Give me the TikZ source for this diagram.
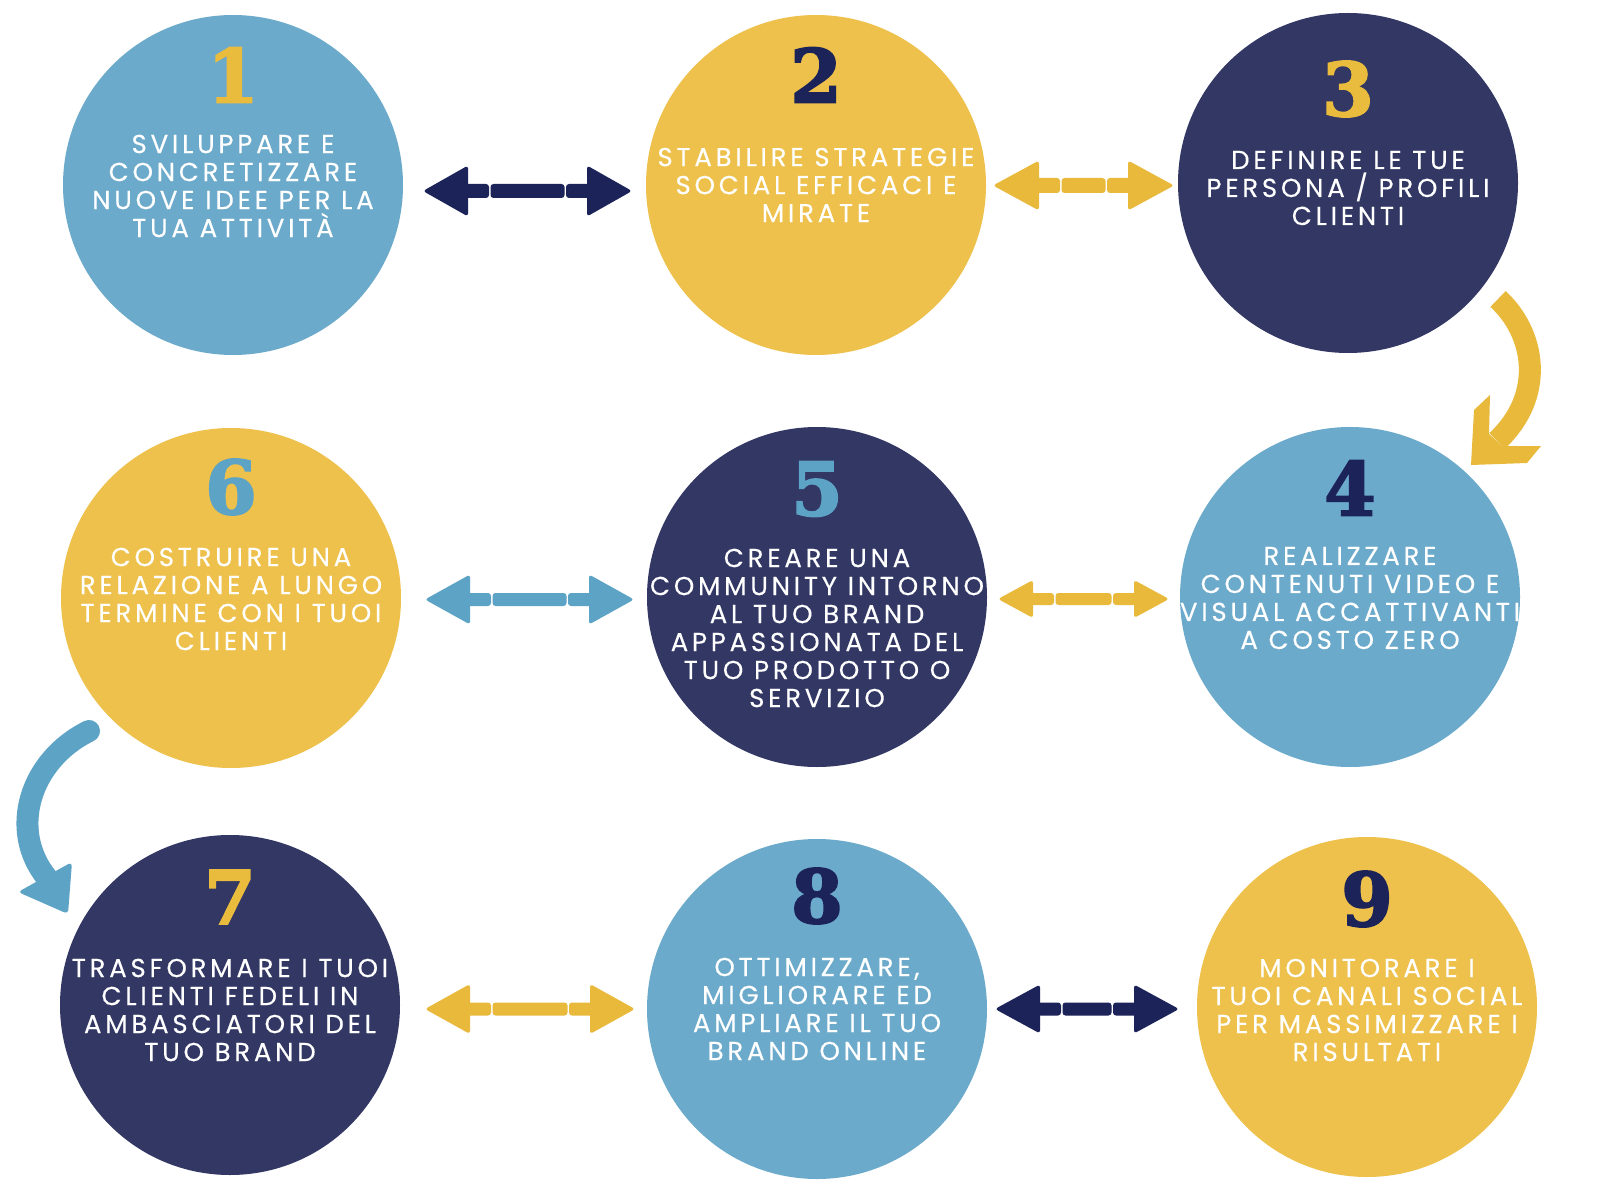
\documentclass[tikz,border=0pt]{standalone}
\usepackage{fontspec}
\usepackage{tikz}
\usetikzlibrary{calc}

\newfontfamily\labelfont[LetterSpace=14.5, FakeBold=0.3]{Poppins}
\newfontfamily\numfont[BoldFeatures={FakeBold=2.6}]{DejaVu Serif}

\definecolor{stepblue}{HTML}{6CAACB}
\definecolor{stepyellow}{HTML}{EDC14B}
\definecolor{stepnavy}{HTML}{323764}
\definecolor{numnavy}{HTML}{1B2359}
\definecolor{numyellow}{HTML}{E9BC3E}
\definecolor{linkblue}{HTML}{5CA3C5}
\definecolor{linkyellow}{HTML}{E9B93B}

\tikzset{
  stepcircle/.style={circle, minimum size=340pt, inner sep=0pt},
  numlabel/.style={inner sep=0pt, font=\numfont\bfseries\fontsize{74}{74}\selectfont},
  steptext/.style={inner sep=0pt, align=center, text=white, font=\labelfont\fontsize{26}{28}\selectfont},
}

\begin{document}
\begin{tikzpicture}[x=1pt, y=-1pt]
    \fill[white] (0,0) rectangle (1598,1198);
    \useasboundingbox (0,0) rectangle (1598,1198);

    % 1. Cerchi
    \node[stepcircle, fill=stepblue]   (c1) at (233,185)  {};
    \node[stepcircle, fill=stepyellow] (c2) at (816,185)  {};
    \node[stepcircle, fill=stepnavy]   (c3) at (1348,183) {};
    \node[stepcircle, fill=stepblue]   (c4) at (1350,597) {};
    \node[stepcircle, fill=stepnavy]   (c5) at (817,597)  {};
    \node[stepcircle, fill=stepyellow] (c6) at (231,598)  {};
    \node[stepcircle, fill=stepnavy]   (c7) at (230,1005) {};
    \node[stepcircle, fill=stepblue]   (c8) at (817,1009) {};
    \node[stepcircle, fill=stepyellow] (c9) at (1367,1007) {};

    % 2. Numeri
    \node[numlabel, text=numyellow] (n1) at ($(c1)+(0,-110)$) {1};
    \node[numlabel, text=numnavy]   (n2) at ($(c2)+(0,-110)$) {2};
    \node[numlabel, text=numyellow] (n3) at ($(c3)+(0,-94)$)  {3};
    \node[numlabel, text=numnavy]   (n4) at ($(c4)+(0,-109)$) {4};
    \node[numlabel, text=linkblue]  (n5) at ($(c5)+(0,-108)$) {5};
    \node[numlabel, text=linkblue]  (n6) at ($(c6)+(0,-111)$) {6};
    \node[numlabel, text=numyellow] (n7) at ($(c7)+(0,-108)$) {7};
    \node[numlabel, text=numnavy]   (n8) at ($(c8)+(0,-113)$) {8};
    \node[numlabel, text=numnavy]   (n9) at ($(c9)+(0,-108)$) {9};

    % 3. Testi
    \node[steptext] (t1) at ($(c1)+(0,1)$)  {SVILUPPARE E\\CONCRETIZZARE\\NUOVE IDEE PER LA\\TUA ATTIVITÀ};
    \node[steptext] (t2) at ($(c2)+(0,0)$)  {STABILIRE STRATEGIE\\SOCIAL EFFICACI E\\MIRATE};
    \node[steptext] (t3) at ($(c3)+(0,5)$)  {DEFINIRE LE TUE\\PERSONA / PROFILI\\CLIENTI};
    \node[steptext] (t4) at ($(c4)+(0,1)$)  {REALIZZARE\\CONTENUTI VIDEO E\\VISUAL ACCATTIVANTI\\A COSTO ZERO};
    \node[steptext] (t5) at ($(c5)+(0,31)$) {CREARE UNA\\COMMUNITY INTORNO\\AL TUO BRAND\\APPASSIONATA DEL\\TUO PRODOTTO O\\SERVIZIO};
    \node[steptext] (t6) at ($(c6)+(0,1)$)  {COSTRUIRE UNA\\RELAZIONE A LUNGO\\TERMINE CON I TUOI\\CLIENTI};
    \node[steptext] (t7) at ($(c7)+(0,5)$)  {TRASFORMARE I TUOI\\CLIENTI FEDELI IN\\AMBASCIATORI DEL\\TUO BRAND};
    \node[steptext] (t8) at ($(c8)+(0,0)$)  {OTTIMIZZARE,\\MIGLIORARE ED\\AMPLIARE IL TUO\\BRAND ONLINE};
    \node[steptext] (t9) at ($(c9)+(0,3)$)  {MONITORARE I\\TUOI CANALI SOCIAL\\PER MASSIMIZZARE I\\RISULTATI};

    % 4. Frecce doppie
    \coordinate (a12l) at (423,191);    \coordinate (a12r) at (632,191);
    \coordinate (a23l) at (993,185.5);  \coordinate (a23r) at (1174,185.5);
    \coordinate (a65l) at (425,599.5);  \coordinate (a65r) at (634,599.5);
    \coordinate (a54l) at (998,599);    \coordinate (a54r) at (1169,599);
    \coordinate (a78l) at (425,1009);   \coordinate (a78r) at (635,1009);
    \coordinate (a89l) at (995,1009);   \coordinate (a89r) at (1179,1009);
    \foreach \l/\r/\col/\hl/\hw/\sw in {a12l/a12r/numnavy/45/51/14, a23l/a23r/linkyellow/46/50/15,
        a65l/a65r/linkblue/45/50/13, a54l/a54r/linkyellow/35/38/12,
        a78l/a78r/linkyellow/45/50/13, a89l/a89r/numnavy/45/49/13} {
        \fill[\col, rounded corners=3pt] (\l) -- ($(\l)+(\hl,-\hw/2)$) -- ($(\l)+(\hl,\hw/2)$) -- cycle;
        \fill[\col, rounded corners=3pt] (\r) -- ($(\r)+(-\hl,-\hw/2)$) -- ($(\r)+(-\hl,\hw/2)$) -- cycle;
        \fill[\col, rounded corners=3pt] ($(\l)+({\hl-4},-\sw/2)$) rectangle ($(\l)+({\hl+21},\sw/2)$);
        \fill[\col, rounded corners=3pt] ($(\r)+({-\hl+4},-\sw/2)$) rectangle ($(\r)+({-\hl-21},\sw/2)$);
        \fill[\col, rounded corners=3pt] ($(\l)+({\hl+22.5},-\sw/2)$) rectangle ($(\r)+({-\hl-22.5},\sw/2)$);
    }

    % 5. Frecce curve
    \coordinate (b34s) at (1498,299);
    \coordinate (b34e) at (1497,441);
    \draw[linkyellow, line width=22pt] (b34s) .. controls (1535,333) and (1546,395) .. (b34e);
    \fill[linkyellow] (1471,465) -- (1527,463) -- (1541,446) -- (1502,446) -- (1489,434)
        -- (1490,395) -- (1474,410) -- cycle;

    \coordinate (b67s) at (89,731);
    \coordinate (b67e) at (47,878);
    \draw[linkblue, line width=22pt, line cap=round] (b67s) .. controls (30,760) and (8,830) .. (b67e);
    \fill[linkblue, rounded corners=4pt] (18,892) -- (72,862) -- (68,914) -- cycle;
\end{tikzpicture}
\end{document}
